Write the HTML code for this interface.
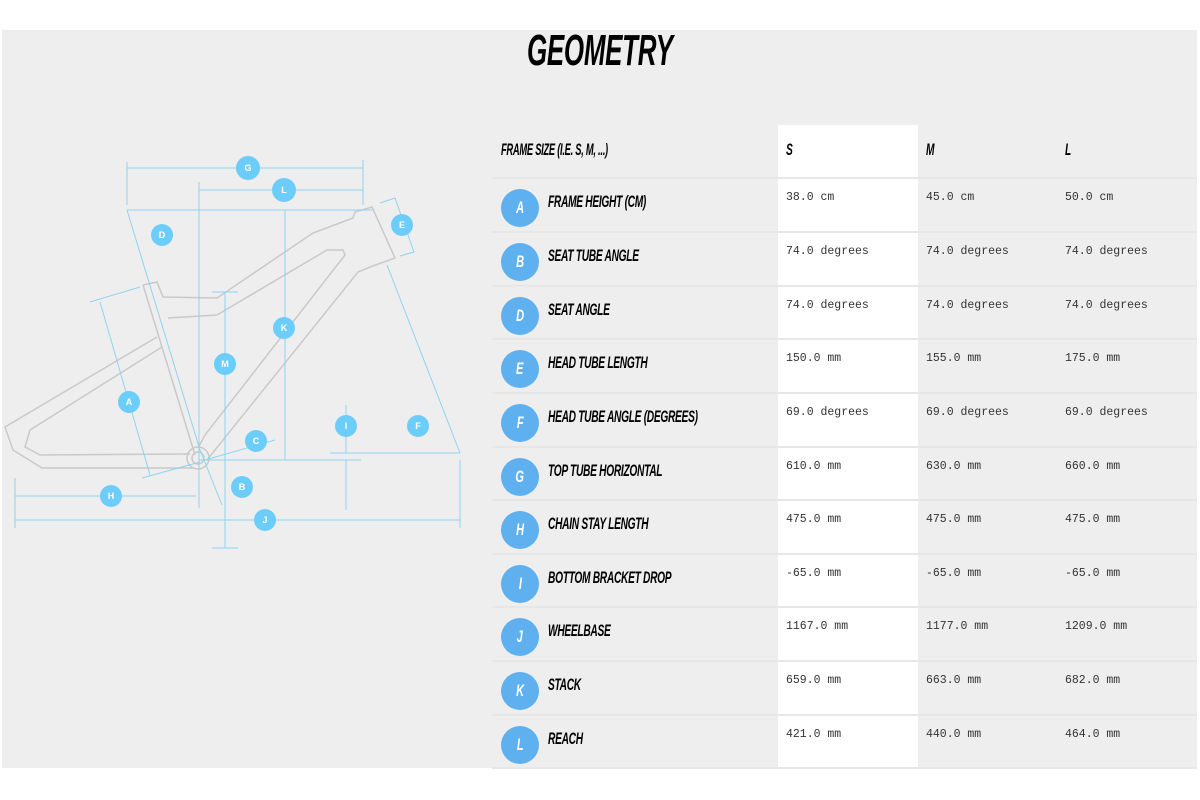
<!DOCTYPE html>
<html><head><meta charset="utf-8"><style>
body{margin:0;width:1200px;height:800px;background:#fff;position:relative;overflow:hidden;font-family:"Liberation Sans",sans-serif}
#bg{position:absolute;left:2px;top:30px;width:1195px;height:738px;background:#eeeeee}
.t{position:absolute;font-weight:bold;font-style:italic;color:#000;transform-origin:0 0;white-space:nowrap;letter-spacing:-0.5px}
.v{position:absolute;font-family:"Liberation Mono",monospace;font-size:11.5px;color:#333;white-space:nowrap}
.c{position:absolute;left:501px;width:38px;height:38px;border-radius:50%;background:#5eb0ef;color:#fff;font-weight:bold;font-style:italic;font-size:17px;text-align:center;line-height:38px}
.c span{display:inline-block;transform:scaleX(0.65)}
.line{position:absolute;left:492px;width:705px;height:2px;background:#e7e7e7}
</style></head><body>
<div id="bg"></div>
<div style="position:absolute;left:778px;top:125px;width:140px;height:643px;background:#fff"></div>
<div class="t" style="left:527px;top:26px;font-size:44px;transform:scaleX(0.59)">GEOMETRY</div>
<div class="t" style="left:501px;top:140px;font-size:17px;transform:scaleX(0.55)">FRAME SIZE (I.E. S, M, ...)</div>
<div class="t" style="left:786px;top:140px;font-size:17px;transform:scaleX(0.6)">S</div>
<div class="t" style="left:926px;top:140px;font-size:17px;transform:scaleX(0.6)">M</div>
<div class="t" style="left:1065px;top:140px;font-size:17px;transform:scaleX(0.6)">L</div>
<div id="rows"></div>
<script>
var d=[["A","FRAME HEIGHT (CM)","38.0 cm","45.0 cm","50.0 cm"],["B","SEAT TUBE ANGLE","74.0 degrees","74.0 degrees","74.0 degrees"],["D","SEAT ANGLE","74.0 degrees","74.0 degrees","74.0 degrees"],["E","HEAD TUBE LENGTH","150.0 mm","155.0 mm","175.0 mm"],["F","HEAD TUBE ANGLE (DEGREES)","69.0 degrees","69.0 degrees","69.0 degrees"],["G","TOP TUBE HORIZONTAL","610.0 mm","630.0 mm","660.0 mm"],["H","CHAIN STAY LENGTH","475.0 mm","475.0 mm","475.0 mm"],["I","BOTTOM BRACKET DROP","-65.0 mm","-65.0 mm","-65.0 mm"],["J","WHEELBASE","1167.0 mm","1177.0 mm","1209.0 mm"],["K","STACK","659.0 mm","663.0 mm","682.0 mm"],["L","REACH","421.0 mm","440.0 mm","464.0 mm"]];
var tops=[178,232,286,339,393,447,500,554,607,661,715],h="";
d.forEach(function(r,i){var t=tops[i];
h+='<div class="line" style="top:'+(t-1)+'px"></div>';
h+='<div class="c" style="top:'+(t+11)+'px"><span>'+r[0]+'</span></div>';
h+='<div class="t" style="left:548px;top:'+(t+14)+'px;font-size:17px;transform:scaleX(0.6)">'+r[1]+'</div>';
h+='<div class="v" style="left:786px;top:'+(t+13)+'px">'+r[2]+'</div>';
h+='<div class="v" style="left:926px;top:'+(t+13)+'px">'+r[3]+'</div>';
h+='<div class="v" style="left:1065px;top:'+(t+13)+'px">'+r[4]+'</div>';});
h+='<div class="line" style="top:767px"></div>';
document.getElementById("rows").innerHTML=h;
</script>
<svg style="position:absolute;left:0;top:0" width="480" height="560" viewBox="0 0 480 560">
<g fill="none" stroke="#c9c9c9" stroke-width="1.5">
<path d="M143,285 L157,282 L163,297 L217,298 L313,233 L353,218 L355,212 L372,207 L395,258 L370,267 L358,272 L207,460"/>
<path d="M168,318 L217,315 L327,250 L343,250 L345,255 L205,435 L198,448"/>
<path d="M143,285 L195,455"/>
<path d="M157,337 L5,427 L13,450 L42,468 L193,468"/>
<path d="M162,347 L30,430 L25,447 L40,455 L190,454"/>
<circle cx="198" cy="458" r="11"/><circle cx="198" cy="458" r="6"/>
</g>
<g fill="none" stroke="#8fd3f0" stroke-width="1">
<path d="M127,168 H363 M127,162 V205 M363,160 V205"/>
<path d="M199,190 H363 M199,182 V508"/>
<path d="M127,210 H372 M127,210 L200,450"/>
<path d="M285,210 V460 M199,460 H361"/>
<path d="M212,292 H238 M225,292 V548 M212,548 H238"/>
<path d="M387,265 L460,453 M330,453 H460"/>
<path d="M90,302 L140,287 M100,302 L150,475 M142,478 L200,462"/>
<path d="M15,496 H196 M15,478 V528 M15,520 H460 M460,460 V528"/>
<path d="M346,405 V453 M346,460 V510 M332,460 H361"/>
<path d="M380,203 L395,198 L414,252 L400,256"/>
<path d="M200,450 L222,505 M205,460 L275,440"/>
</g>
<g fill="#6dcdfa">
<circle cx="248" cy="168" r="12"/><circle cx="284" cy="190" r="12"/><circle cx="162" cy="235" r="11"/>
<circle cx="402" cy="225" r="11"/><circle cx="225" cy="364" r="11"/><circle cx="284" cy="328" r="11"/>
<circle cx="129" cy="402" r="11"/><circle cx="256" cy="441" r="11"/><circle cx="346" cy="426" r="11"/>
<circle cx="418" cy="426" r="11"/><circle cx="242" cy="487" r="11"/><circle cx="111" cy="496" r="11"/>
<circle cx="265" cy="520" r="11"/>
</g>
<g fill="#fff" font-family="Liberation Sans" font-size="9" font-weight="bold" text-anchor="middle">
<text x="248" y="171">G</text><text x="284" y="193">L</text><text x="162" y="238">D</text>
<text x="402" y="228">E</text><text x="225" y="367">M</text><text x="284" y="331">K</text>
<text x="129" y="405">A</text><text x="256" y="444">C</text><text x="346" y="429">I</text>
<text x="418" y="429">F</text><text x="242" y="490">B</text><text x="111" y="499">H</text>
<text x="265" y="523">J</text>
</g>
</svg>
</body></html>
